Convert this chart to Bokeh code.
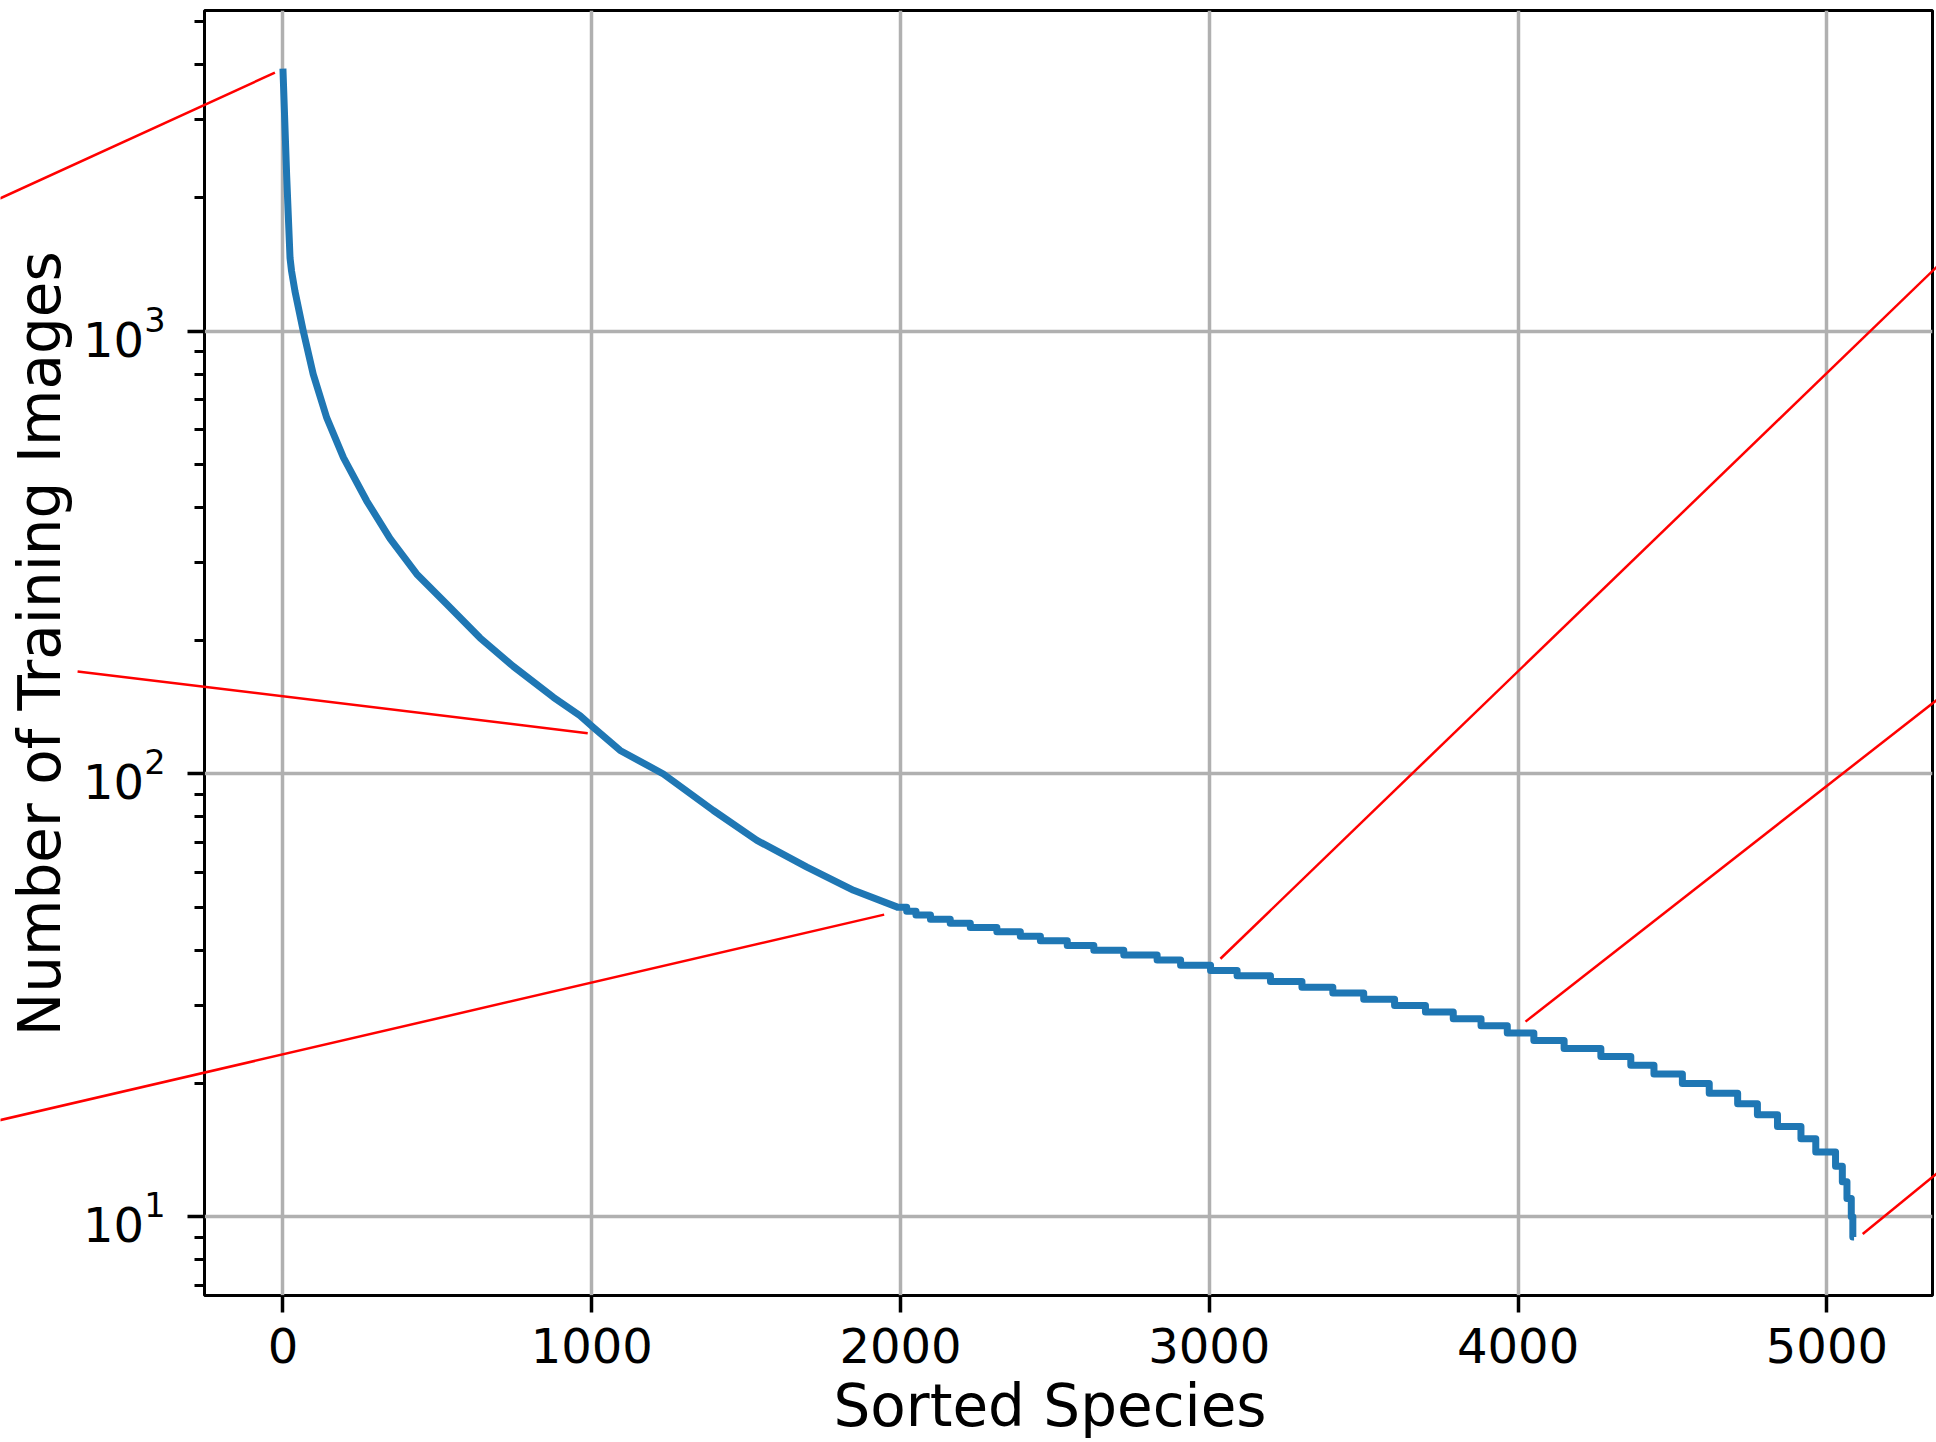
import math
from bokeh.plotting import figure
from bokeh.models import Range1d, FixedTicker, LogTicker
from bokeh.embed import file_html
from bokeh.resources import INLINE

# ---- data ----
# smooth head of the sorted distribution (species rank, number of images)
rank_head = [0, 12, 23, 28, 39, 66, 98, 142, 196, 271, 347, 433, 530, 638,
             746, 876, 962, 1005, 1092, 1232, 1394, 1535, 1697, 1848, 1988]
count_head = [3917, 2255, 1463, 1366, 1231, 1000, 800, 637, 518, 414, 340, 283,
              242, 203, 175, 149, 135.5, 127.5, 113, 100, 82.7, 70.8, 61.6, 54.6, 50.1]

# stepped tail: integer image counts and the rank at which each level starts
tail_levels = [50, 49, 48, 47, 46, 45, 44, 43, 42, 41, 40, 39, 38, 37, 36, 35, 34,
               33, 32, 31, 30, 29, 28, 27, 26, 25, 24, 23, 22, 21, 20, 19, 18, 17,
               16, 15, 14, 13, 12, 11, 10, 9]
tail_start = [1990, 2020, 2050, 2097, 2161, 2226, 2312, 2388, 2453, 2540, 2626, 2723,
              2831, 2907, 3004, 3090, 3198, 3300, 3400, 3500, 3600, 3700, 3790, 3880,
              3965, 4051, 4149, 4268, 4365, 4440, 4532, 4619, 4711, 4775, 4840, 4916,
              4964, 5028, 5050, 5065, 5079, 5084]
last_rank = 5088

x_ticks = [0, 1000, 2000, 3000, 4000, 5000]

# red connector lines (start and end, in data units)
conn_x0 = [-26, 987, 1947, 3036, 4024, 5116]
conn_y0 = [3837, 124, 48.3, 38.4, 27.7, 9.19]
conn_x1 = [-917, -665, -917, 5356, 5356, 5356]
conn_y1 = [1995, 170.8, 16.6, 1399, 147.4, 12.58]

# ---- build the curve (head + steps) ----
xs = list(rank_head)
ys = list(count_head)
ends = tail_start[1:] + [last_rank]
for lvl, s, e in zip(tail_levels, tail_start, ends):
    xs += [s, e]
    ys += [lvl, lvl]

FONT = "DejaVu Sans"
NBSP = "\u00a0"
W, H = 1936, 1442
BL, BT, BR, BB = 204, 10, 4, 146
X0, X1 = -254, 5342
Y0, Y1 = 6.64, 5300

p = figure(width=W, height=H, y_axis_type="log",
           x_range=Range1d(X0, X1), y_range=Range1d(Y0, Y1),
           output_backend="svg", toolbar_location=None,
           min_border_left=BL, min_border_top=BT, min_border_right=BR,
           min_border_bottom=BB)

p.background_fill_color = "white"
p.border_fill_color = "white"
p.outline_line_color = "black"
p.outline_line_width = 3

p.line(xs, ys, line_color="#1f77b4", line_width=7, line_join="round")

# grids
for g in (p.xgrid, p.ygrid):
    g.grid_line_color = "#b0b0b0"
    g.grid_line_width = 3.5
p.ygrid.minor_grid_line_color = None

# axes
p.xaxis.ticker = FixedTicker(ticks=x_ticks)
p.yaxis.ticker = LogTicker(num_minor_ticks=10)
for ax in (p.xaxis, p.yaxis):
    ax.axis_line_color = None
    ax.major_tick_in = 0
    ax.major_tick_out = 17
    ax.major_tick_line_width = 3.5
    ax.major_tick_line_color = "black"
    ax.major_label_text_font = FONT
    ax.major_label_text_font_size = "48px"
    ax.major_label_text_color = "black"
    ax.axis_label_text_font = FONT
    ax.axis_label_text_font_size = "58px"
    ax.axis_label_text_font_style = "normal"
    ax.axis_label_text_color = "black"
p.xaxis.minor_tick_line_color = None
p.yaxis.minor_tick_in = 0
p.yaxis.minor_tick_out = 10
p.yaxis.minor_tick_line_width = 2.8
p.yaxis.minor_tick_line_color = "black"

# labels (non-breaking padding nudges the centred labels as in the reference)
p.xaxis.axis_label = "Sorted Species" + NBSP * 2
p.yaxis.axis_label = NBSP + "Number of Training Images"
p.xaxis.major_label_standoff = 15
p.xaxis.axis_label_standoff = 6
p.yaxis.major_label_standoff = 22
p.yaxis.axis_label_standoff = 6

# ---- transparent overlay with the same data mapping, covering the whole canvas,
#      so the red connector lines can run past the axes frame ----
fw, fh = W - BL - BR, H - BT - BB
kx = fw / (X1 - X0)
ly0, ly1 = math.log10(Y0), math.log10(Y1)
ky = fh / (ly1 - ly0)
ov_x = Range1d(X0 - BL / kx, X1 + BR / kx)
ov_y = Range1d(10 ** (ly0 - BB / ky), 10 ** (ly1 + BT / ky))

ov = figure(width=W, height=H, y_axis_type="log", x_range=ov_x, y_range=ov_y,
            x_axis_location=None, y_axis_location=None,
            output_backend="svg", toolbar_location=None, min_border=0,
            styles={"position": "absolute", "left": "0px", "top": "0px"})
ov.background_fill_color = None
ov.border_fill_color = None
ov.outline_line_color = None
ov.xgrid.visible = False
ov.ygrid.visible = False
ov.segment(conn_x0, conn_y0, conn_x1, conn_y1, line_color="#ff0000", line_width=2.5)

open("out.html", "w").write(file_html([p, ov], INLINE))
